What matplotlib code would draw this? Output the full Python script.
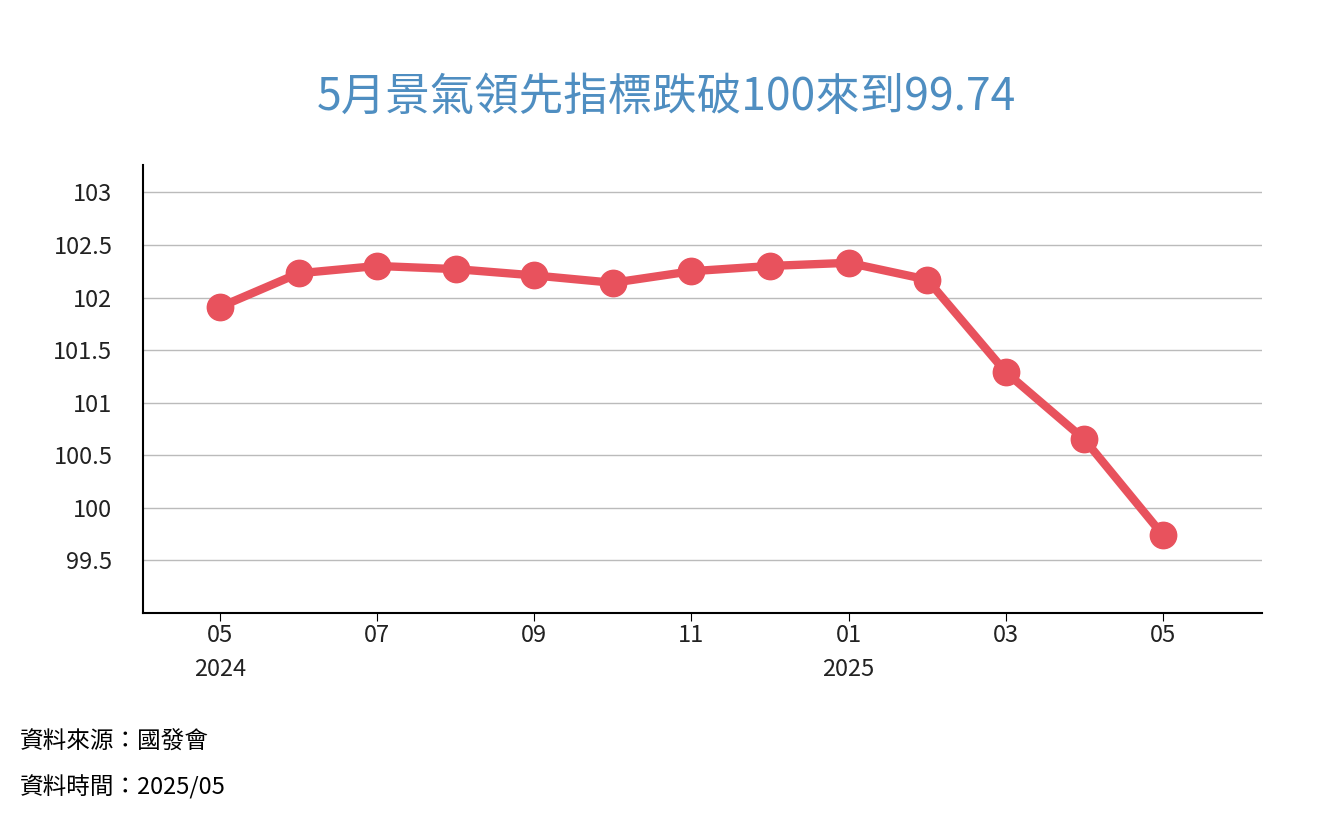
import matplotlib.pyplot as plt

plt.rcParams['font.family'] = ['Noto Sans CJK TC', 'DejaVu Sans']

# Data
months = list(range(13))  # 2024-05 .. 2025-05
values = [101.91, 102.23, 102.30, 102.27, 102.21, 102.14, 102.25, 102.30, 102.33, 102.17, 101.29, 100.65, 99.74]
tick_pos = [0, 2, 4, 6, 8, 10, 12]
tick_labels = ['05\n2024', '07', '09', '11', '01\n2025', '03', '05']
y_ticks = [99.5, 100, 100.5, 101, 101.5, 102, 102.5, 103]

fig = plt.figure(figsize=(13.32, 8.21), dpi=100)
ax = fig.add_axes([143/1332, 1 - 613/821, (1262-143)/1332, (613-165)/821])

ax.plot(months, values, color='#e8525d', lw=6, marker='o', ms=19, zorder=3)

ax.set_ylim(99, 103.26)
ax.set_xlim(-0.98, 13.26)
ax.set_yticks(y_ticks)
ax.set_yticklabels([f'{v:g}' for v in y_ticks])
ax.set_xticks(tick_pos)
ax.set_xticklabels(tick_labels, linespacing=1.6)
ax.tick_params(labelsize=17, colors='#222222', length=0)
ax.tick_params(axis='x', length=6, color='black', pad=2)
ax.tick_params(axis='y', pad=22)
for lab in ax.get_xticklabels() + ax.get_yticklabels():
    lab.set_fontweight('light')
ax.grid(axis='y', color='#bbbbbb', lw=1)
ax.set_axisbelow(True)
for s in ['top', 'right']:
    ax.spines[s].set_visible(False)
ax.spines['left'].set_linewidth(1.5)
ax.spines['bottom'].set_linewidth(1.5)

fig.text(0.5, 1 - 97/821, '5月景氣領先指標跌破100來到99.74', ha='center', va='center',
         fontsize=32, color='#4f8ec1', fontweight='medium')
fig.text(20/1332, 1 - 742/821, '資料來源：國發會', fontsize=17, va='center', fontweight='light')
fig.text(20/1332, 1 - 787/821, '資料時間：2025/05', fontsize=17, va='center', fontweight='light')

fig.savefig('out.png', dpi=100)
